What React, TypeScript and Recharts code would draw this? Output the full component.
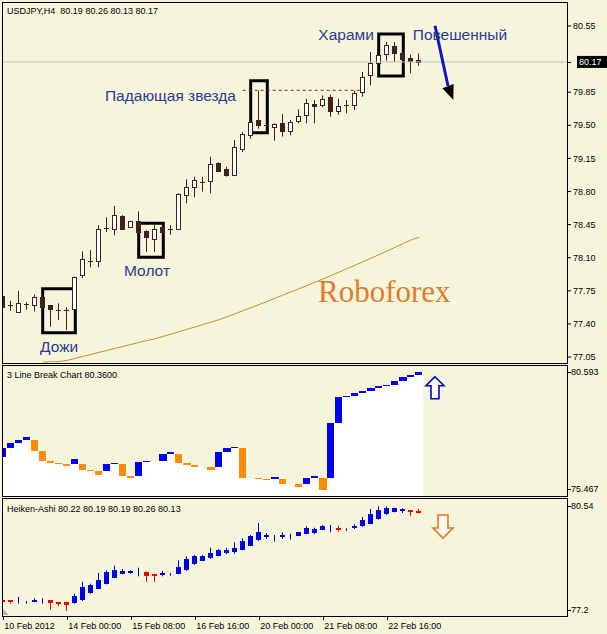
import React from 'react';
import { ComposedChart, Bar, Line, XAxis, YAxis, ReferenceLine, ReferenceArea, ReferenceDot } from 'recharts';

const BG = '#f5f5dc';
const FONT = '"Liberation Sans", Arial, sans-serif';
const X_MIN = -0.0375;
const X_MAX = 70.4625;

// ---------- main price panel (USDJPY H4) ----------
const openMain = [77.695, 77.6, 77.53, 77.61, 77.597, 77.688, 77.597, 77.55, 77.55, 77.554, 77.914, 78.07, 78.068, 78.41, 78.407, 78.541, 78.422, 78.491, 78.379, 78.301, 78.422, 78.4, 78.407, 78.76, 78.851, 78.9, 78.914, 79.105, 79.041, 78.978, 79.253, 79.394, 79.556, 79.5, 79.485, 79.521, 79.437, 79.542, 79.606, 79.725, 79.711, 79.796, 79.648, 79.71, 79.711, 79.852, 80.029, 80.156, 80.254, 80.339, 80.268, 80.212, 80.19];
const highMain = [77.7, 77.645, 77.75, 77.63, 77.71, 77.69, 77.6, 77.618, 77.576, 77.9, 78.168, 78.18, 78.443, 78.527, 78.647, 78.55, 78.49, 78.591, 78.39, 78.443, 78.43, 78.443, 78.78, 78.929, 78.957, 78.957, 79.168, 79.11, 79.062, 79.345, 79.429, 79.556, 79.866, 79.51, 79.521, 79.62, 79.556, 79.669, 79.781, 79.767, 79.817, 79.824, 79.781, 79.767, 79.866, 80.064, 80.275, 80.25, 80.381, 80.381, 80.27, 80.247, 80.26];
const lowMain = [77.53, 77.54, 77.53, 77.55, 77.53, 77.57, 77.37, 77.44, 77.335, 77.55, 77.885, 77.999, 77.999, 78.372, 78.337, 78.4, 78.42, 78.372, 78.16, 78.16, 78.37, 78.343, 78.4, 78.675, 78.739, 78.798, 78.781, 79.01, 78.957, 78.975, 79.218, 79.358, 79.464, 79.49, 79.337, 79.38, 79.394, 79.521, 79.521, 79.521, 79.69, 79.591, 79.612, 79.627, 79.662, 79.802, 79.923, 80.15, 80.183, 80.169, 80.19, 80.05, 80.13];
const closeMain = [77.58, 77.61, 77.62, 77.615, 77.68, 77.576, 77.56, 77.545, 77.555, 77.899, 78.083, 78.075, 78.4, 78.415, 78.548, 78.407, 78.485, 78.372, 78.316, 78.407, 78.372, 78.405, 78.774, 78.844, 78.922, 78.905, 79.091, 79.02, 78.975, 79.267, 79.408, 79.535, 79.506, 79.502, 79.51, 79.443, 79.535, 79.598, 79.733, 79.704, 79.781, 79.654, 79.704, 79.715, 79.838, 80.014, 80.162, 80.24, 80.346, 80.261, 80.198, 80.183, 80.17];
const maMain = [null, null, null, null, null, 76.997, 77.0, 77.002, 77.015, 77.036, 77.057, 77.079, 77.1, 77.121, 77.142, 77.163, 77.184, 77.205, 77.225, 77.244, 77.269, 77.293, 77.319, 77.344, 77.369, 77.395, 77.42, 77.446, 77.477, 77.509, 77.541, 77.573, 77.606, 77.639, 77.672, 77.706, 77.74, 77.773, 77.807, 77.842, 77.877, 77.913, 77.949, 77.985, 78.022, 78.059, 78.096, 78.134, 78.172, 78.211, 78.25, 78.289, 78.316];
const mainTicks = [77.05, 77.4, 77.75, 78.1, 78.45, 78.8, 79.15, 79.5, 79.85, 80.55];
const mainDomain = [76.987, 80.793];
const lastPrice = 80.17;

// ---------- 3 Line Break panel ----------
const lbOpen = [77.017, 77.372, 77.557, 77.675, 77.675, 77.242, 76.847, 76.768, 76.729, 76.729, 76.729, 76.492, 76.453, 76.453, 76.729, 76.729, 76.256, 76.256, 76.808, null, 76.847, 77.123, 77.123, 76.768, 76.69, null, 76.611, 76.611, 77.202, 77.36, 77.36, null, 76.177, 76.138, 76.138, 76.138, null, 75.94, 75.94, 76.177, 76.177, 76.177, 78.358, 79.383, 79.422, 79.529, 79.619, 79.726, 79.805, 79.844, 80.002, 80.159, 80.25];
const lbClose = [77.372, 77.557, 77.675, 77.794, 77.242, 76.847, 76.768, 76.729, 76.65, 76.926, 76.492, 76.453, 76.295, 76.729, 76.768, 76.256, 76.177, 76.808, 76.847, null, 77.123, 77.202, 76.768, 76.69, 76.611, null, 76.492, 77.202, 77.36, 77.411, 76.177, null, 76.138, 76.098, 76.216, 75.94, null, 75.834, 76.177, 76.256, 75.704, 78.358, 79.383, 79.422, 79.529, 79.619, 79.726, 79.805, 79.844, 80.002, 80.159, 80.25, 80.36];
const lbScale = [75.467, 80.593];

// ---------- Heiken-Ashi panel ----------
const haOpen = [77.646, 77.623, 77.61, 77.58, 77.615, 77.6, 77.623, 77.566, 77.566, 77.546, 77.623, 77.834, 77.949, 78.101, 78.274, 78.372, 78.409, 78.44, 78.447, 78.389, 78.352, 78.37, 78.389, 78.487, 78.66, 78.755, 78.833, 78.907, 78.985, 79.005, 79.08, 79.195, 79.351, 79.446, 79.44, 79.466, 79.47, 79.483, 79.541, 79.561, 79.656, 79.69, 79.71, 79.66, 79.714, 79.754, 79.829, 79.964, 80.099, 80.174, 80.22, 80.215, 80.2];
const haHigh = [77.661, 77.63, 77.718, 77.603, 77.681, 77.681, 77.63, 77.57, 77.57, 77.813, 78.159, 78.101, 78.409, 78.487, 78.62, 78.525, 78.487, 78.562, 78.45, 78.39, 78.467, 78.409, 78.775, 78.89, 78.928, 78.928, 79.138, 79.1, 79.138, 79.293, 79.408, 79.503, 79.849, 79.561, 79.503, 79.581, 79.541, 79.59, 79.754, 79.714, 79.791, 79.791, 79.771, 79.696, 79.812, 80.022, 80.252, 80.33, 80.33, 80.29, 80.272, 80.22, 80.26];
const haLow = [77.525, 77.525, 77.525, 77.525, 77.566, 77.525, 77.353, 77.451, 77.315, 77.525, 77.603, 77.813, 77.949, 78.084, 78.257, 78.372, 78.389, 78.314, 78.159, 78.159, 78.314, 78.332, 78.372, 78.467, 78.64, 78.755, 78.812, 78.89, 78.948, 78.965, 79.063, 79.178, 79.331, 79.388, 79.311, 79.388, 79.368, 79.47, 79.524, 79.524, 79.639, 79.581, 79.598, 79.619, 79.676, 79.734, 79.812, 79.944, 80.079, 80.157, 80.137, 80.042, 80.13];
const haClose = [77.589, 77.583, 77.61, 77.58, 77.63, 77.6, 77.546, 77.525, 77.488, 77.756, 78.006, 78.064, 78.216, 78.429, 78.487, 78.467, 78.467, 78.44, 78.332, 78.332, 78.409, 78.37, 78.582, 78.812, 78.89, 78.907, 78.985, 79.08, 79.063, 79.138, 79.331, 79.483, 79.598, 79.503, 79.44, 79.503, 79.47, 79.581, 79.696, 79.676, 79.771, 79.69, 79.69, 79.66, 79.771, 79.944, 80.099, 80.215, 80.29, 80.272, 80.24, 80.157, 80.19];
const haScale = [77.2, 80.54];

// ---------- time axis ----------
const timeTickIdx = [0, 8, 16, 24, 32, 40, 48];
const timeLabels = ['10 Feb 2012', '14 Feb 00:00', '15 Feb 08:00', '16 Feb 16:00', '20 Feb 00:00', '21 Feb 08:00', '22 Feb 16:00'];

const mainData = openMain.map((o, i) => ({ i, o, h: highMain[i], l: lowMain[i], c: closeMain[i], ma: maMain[i] }));
const lbData = lbOpen.map((o, i) => {
  if (o == null) {
    let k = i - 1;
    while (k >= 0 && lbClose[k] == null) k--;
    const top = lbClose[k] as number;
    return { i, top, lo: top, dir: null };
  }
  const c = lbClose[i] as number;
  return { i, top: Math.max(o, c), lo: Math.min(o, c), dir: c > o ? 'up' : 'down' };
});
const haData = haOpen.map((o, i) => ({ i, o, h: haHigh[i], l: haLow[i], c: haClose[i] }));

const CANDLE = '#43201f';

function CandleShape(props: any) {
  const { x, y, width, height, payload } = props;
  if (!payload) return null;
  const top = Math.min(y, y + height);
  const bot = Math.max(y, y + height);
  const { o, h, l, c } = payload;
  const k = (bot - top) / (h - l);
  const py = (v: number) => top + (h - v) * k;
  const cx = Math.floor(x + width / 2) + 0.5;
  const yO = py(o);
  const yC = py(c);
  const bTop = Math.min(yO, yC);
  const bBot = Math.max(yO, yC);
  const bull = c >= o;
  return (
    <g>
      <line x1={cx} x2={cx} y1={top} y2={bot} stroke={CANDLE} strokeWidth={1} />
      {bBot - bTop < 1.5 ? (
        <line x1={cx - 2.5} x2={cx + 2.5} y1={Math.round(yO) + 0.5} y2={Math.round(yO) + 0.5} stroke={CANDLE} strokeWidth={1} />
      ) : (
        <rect x={cx - 2} y={Math.round(bTop) + 0.5} width={4} height={Math.max(1, Math.round(bBot) - Math.round(bTop))} fill={bull ? '#ffffff' : CANDLE} stroke={CANDLE} strokeWidth={1} />
      )}
    </g>
  );
}

function HAShape(props: any) {
  const { x, y, width, height, payload } = props;
  if (!payload) return null;
  const top = Math.min(y, y + height);
  const bot = Math.max(y, y + height);
  const { o, h, l, c } = payload;
  const k = (bot - top) / (h - l);
  const py = (v: number) => top + (h - v) * k;
  const cx = Math.floor(x + width / 2) + 0.5;
  const col = c >= o ? '#0000f0' : '#ff0000';
  const yO = py(o);
  const yC = py(c);
  const bTop = Math.min(yO, yC);
  const bBot = Math.max(yO, yC);
  return (
    <g>
      <line x1={cx} x2={cx} y1={top} y2={bot} stroke={col} strokeWidth={1} />
      {o !== c && (
        <rect x={cx - 2.5} y={Math.round(bTop)} width={5} height={Math.max(2, Math.round(bBot) - Math.round(bTop))} fill={col} />
      )}
    </g>
  );
}

function BrickShape(props: any) {
  const { x, y, width, height, payload } = props;
  if (!payload) return null;
  const top = Math.min(y, y + height);
  const bot = Math.max(y, y + height);
  const k = (bot - top) / (payload.top - lbScale[0]);
  const x0 = Math.round(x);
  const x1 = Math.round(x + width);
  const yLo = top + (payload.top - payload.lo) * k;
  return (
    <g shapeRendering="crispEdges">
      <rect x={x0} y={Math.round(top)} width={x1 - x0 + 1} height={Math.round(bot) - Math.round(top) + 1} fill="#ffffff" />
      {payload.dir && (
        <rect x={x0} y={Math.round(top)} width={x1 - x0} height={Math.max(1, Math.round(yLo) - Math.round(top))} fill={payload.dir === 'up' ? '#0000ff' : '#ff8c00'} />
      )}
    </g>
  );
}

function makeEdgeTick(maxVal: number, dTop: number, dBot: number) {
  return function EdgeTick(props: any) {
    const { x, y, payload } = props;
    const yy = payload.value === maxVal ? y + dTop : y - dBot;
    return (
      <g>
        <line x1={x + 1} x2={x + 4} y1={Math.round(yy) + 0.5} y2={Math.round(yy) + 0.5} stroke="#000" />
        <text x={x + 4} y={yy} dy="0.355em" fontSize={9} fontFamily={FONT} fill="#000">{String(payload.value)}</text>
      </g>
    );
  };
}

function TimeTick(props: any) {
  const { x, y, payload } = props;
  const cx = Math.floor(x) + 0.5;
  const idx = timeTickIdx.indexOf(payload.value);
  return (
    <g>
      <line x1={cx} x2={cx} y1={y + 1} y2={y + 5} stroke="#000" />
      <text x={x + 1} y={y + 13.5} fontSize={9} fontFamily={FONT} fill="#000">{timeLabels[idx]}</text>
    </g>
  );
}

const annot = (txt: string) => (p: any) => (
  <text x={p.cx} y={p.cy} fontSize={15.5} fontFamily={FONT} fill="#2e3a8f">{txt}</text>
);

const PriceTag = (p: any) => (
  <g>
    <line x1={p.cx} x2={p.cx + 4} y1={Math.round(p.cy) + 0.5} y2={Math.round(p.cy) + 0.5} stroke="#000" />
    <rect x={p.cx + 10} y={p.cy - 6} width={31} height={12} fill="#000" />
    <text x={p.cx + 12} y={p.cy} dy="0.355em" fontSize={9} fontFamily={FONT} fill="#fff">{lastPrice.toFixed(2)}</text>
  </g>
);

const ArrowHead = (p: any) => (
  <polygon points={`${p.cx},${p.cy} ${p.cx + 0.3},${p.cy - 16.1} ${p.cx - 10.9},${p.cy - 11.9}`} fill="#000" />
);

const UpArrow = (p: any) => {
  const { cx, cy } = p;
  return (
    <polygon
      points={`${cx},${cy} ${cx + 9},${cy + 9} ${cx + 4},${cy + 9} ${cx + 4},${cy + 22} ${cx - 4},${cy + 22} ${cx - 4},${cy + 9} ${cx - 9},${cy + 9}`}
      fill="#ffffff" stroke="#0000cc" strokeWidth={1.6}
    />
  );
};

const DownArrow = (p: any) => {
  const { cx, cy } = p;
  return (
    <polygon
      points={`${cx - 5},${cy} ${cx + 5},${cy} ${cx + 5},${cy + 13} ${cx + 10},${cy + 13} ${cx},${cy + 23} ${cx - 10},${cy + 13} ${cx - 5},${cy + 13}`}
      fill="#fff8f0" stroke="#e07828" strokeWidth={1.6}
    />
  );
};

const ShiftMark = (p: any) => (
  <polygon points={`${p.cx},${p.cy - 6} ${p.cx + 6},${p.cy} ${p.cx},${p.cy}`} fill="#b4b4b4" />
);

const headerStyle: React.CSSProperties = {
  position: 'absolute', left: 7, fontSize: 9, fontFamily: FONT, color: '#000', whiteSpace: 'pre', lineHeight: '10px',
};

const frame = (top: number, height: number): React.CSSProperties => ({
  position: 'absolute', left: 2, top, width: 566, height, border: '1px solid #000', boxSizing: 'border-box', pointerEvents: 'none',
});

export default function App() {
  return (
    <div style={{ position: 'absolute', left: 0, top: 0, width: 607, height: 634, background: BG, overflow: 'hidden' }}>
      <div style={{ position: 'absolute', left: 0, top: 0 }}>
        <ComposedChart width={607} height={366} data={mainData} margin={{ top: 3, right: 0, bottom: 3, left: 3 }}>
          <XAxis dataKey="i" type="number" domain={[X_MIN, X_MAX]} hide allowDataOverflow />
          <YAxis
            orientation="right" width={40} type="number" domain={mainDomain} ticks={mainTicks} allowDataOverflow interval={0}
            axisLine={false} tickSize={4} tickMargin={2} tickLine={{ stroke: '#000' }}
            tick={{ fontSize: 9, fill: '#000', fontFamily: FONT }} tickFormatter={(v: number) => v.toFixed(2)}
          />
          <ReferenceLine y={lastPrice} stroke="#c0c0c0" strokeWidth={1} />
          <Line type="linear" dataKey="ma" stroke="#c8901e" strokeWidth={1} dot={false} isAnimationActive={false} connectNulls={false} />
          <Bar dataKey={(d: any) => [d.l, d.h]} barSize={8} shape={CandleShape} isAnimationActive={false} />
          <ReferenceLine segment={[{ x: 29.925, y: 79.87 }, { x: 44.59, y: 79.87 }]} stroke="#a01818" strokeDasharray="3 3" strokeWidth={1} ifOverflow="visible" />
          <ReferenceArea x1={4.925} x2={9.0} y1={77.307} y2={77.772} fill="none" stroke="#000" strokeWidth={3} ifOverflow="visible" />
          <ReferenceArea x1={16.925} x2={20.0} y1={78.104} y2={78.464} fill="none" stroke="#000" strokeWidth={3} ifOverflow="visible" />
          <ReferenceArea x1={30.925} x2={33.0} y1={79.422} y2={79.972} fill="none" stroke="#000" strokeWidth={3} ifOverflow="visible" />
          <ReferenceArea x1={46.925} x2={50.0} y1={80.021} y2={80.465} fill="none" stroke="#000" strokeWidth={3} ifOverflow="visible" />
          <ReferenceLine segment={[{ x: 53.96, y: 80.553 }, { x: 55.59, y: 79.916 }]} stroke="#1414c8" strokeWidth={3} ifOverflow="visible" />
          <ReferenceDot x={56.25} y={79.767} r={0} shape={ArrowHead} ifOverflow="visible" />
          <ReferenceDot x={4.59} y={77.103} r={0} shape={annot('Дожи')} ifOverflow="visible" />
          <ReferenceDot x={15.09} y={77.907} r={0} shape={annot('Молот')} ifOverflow="visible" />
          <ReferenceDot x={12.71} y={79.752} r={0} shape={annot('Падающая звезда')} ifOverflow="visible" />
          <ReferenceDot x={39.375} y={80.407} r={0} shape={annot('Харами')} ifOverflow="visible" />
          <ReferenceDot x={51.18} y={80.402} r={0} shape={annot('Повешенный')} ifOverflow="visible" />
          <ReferenceDot x={39.34} y={77.632} r={0} ifOverflow="visible"
            shape={(p: any) => <text x={p.cx} y={p.cy} fontSize={31} fontFamily='"Liberation Serif", "Times New Roman", serif' fill="#e37b2b">Roboforex</text>} />
          <ReferenceDot x={X_MAX} y={lastPrice} r={0} shape={PriceTag} ifOverflow="visible" />
        </ComposedChart>
      </div>

      <div style={{ position: 'absolute', left: 0, top: 365 }}>
        <ComposedChart width={607} height={132} data={lbData} margin={{ top: 1, right: 0, bottom: 1, left: 3 }}>
          <XAxis dataKey="i" type="number" domain={[X_MIN, X_MAX]} hide allowDataOverflow />
          <YAxis
            orientation="right" width={40} type="number" domain={lbScale} ticks={lbScale} allowDataOverflow interval={0}
            axisLine={false} tickLine={false} tickSize={0} tickMargin={0} tick={makeEdgeTick(lbScale[1], 6.3, 6.7)}
          />
          <Bar dataKey={(d: any) => [lbScale[0], d.top]} barSize={8} shape={BrickShape} isAnimationActive={false} />
          <ReferenceDot x={53.96} y={80.171} r={0} shape={UpArrow} ifOverflow="visible" />
        </ComposedChart>
      </div>

      <div style={{ position: 'absolute', left: 0, top: 498 }}>
        <ComposedChart width={607} height={136} data={haData} margin={{ top: 1, right: 0, bottom: 0, left: 3 }}>
          <XAxis
            dataKey="i" type="number" domain={[X_MIN, X_MAX]} allowDataOverflow ticks={timeTickIdx} interval={0} height={19}
            axisLine={false} tickLine={false} tickSize={0} tickMargin={0} tick={TimeTick}
          />
          <YAxis
            orientation="right" width={40} type="number" domain={haScale} ticks={haScale} allowDataOverflow interval={0}
            axisLine={false} tickLine={false} tickSize={0} tickMargin={0} tick={makeEdgeTick(haScale[1], 6.7, 5)}
          />
          <Bar dataKey={(d: any) => [d.l, d.h]} barSize={8} shape={HAShape} isAnimationActive={false} />
          <ReferenceDot x={54.96} y={80.079} r={0} shape={DownArrow} ifOverflow="visible" />
          <ReferenceDot x={X_MIN} y={haScale[0]} r={0} shape={ShiftMark} ifOverflow="visible" />
        </ComposedChart>
      </div>

      <div style={frame(2, 362)} />
      <div style={frame(365, 132)} />
      <div style={frame(498, 119)} />

      <div style={{ ...headerStyle, top: 6 }}>{'USDJPY,H4  80.19 80.26 80.13 80.17'}</div>
      <div style={{ ...headerStyle, top: 370 }}>{'3 Line Break Chart 80.3600'}</div>
      <div style={{ ...headerStyle, top: 504 }}>{'Heiken-Ashi 80.22 80.19 80.19 80.26 80.13'}</div>
    </div>
  );
}
